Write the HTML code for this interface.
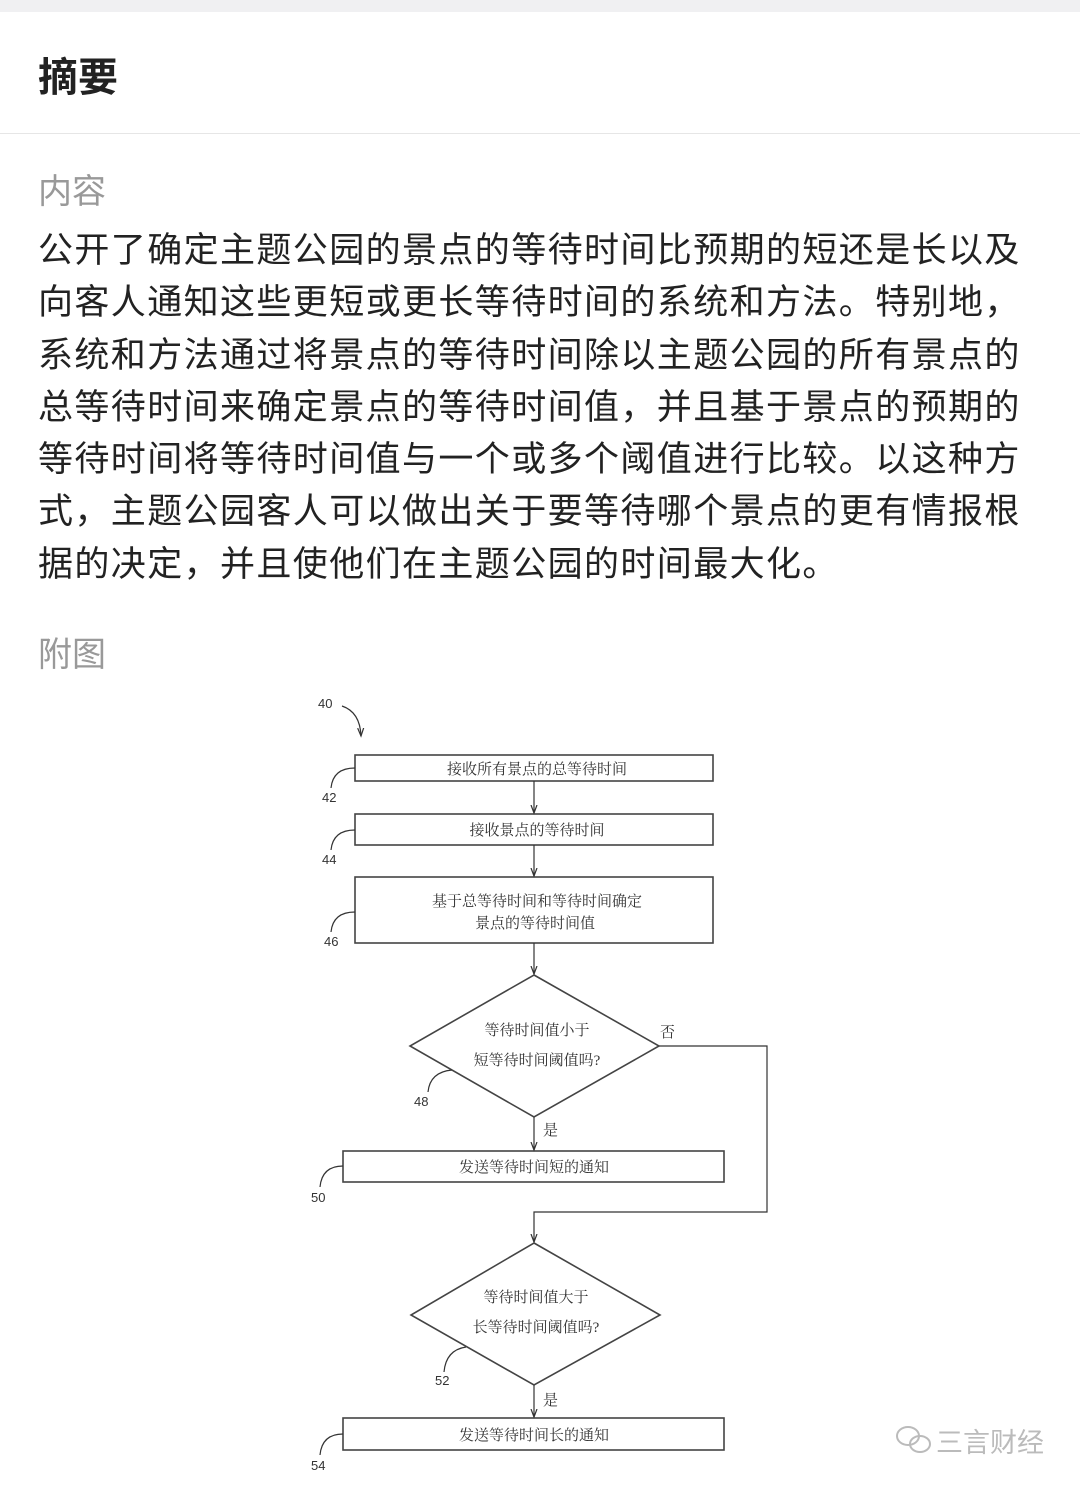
<!DOCTYPE html>
<html><head><meta charset="utf-8"><style>
body{margin:0;width:1080px;height:1487px;background:#fff;position:relative;overflow:hidden;font-family:"Liberation Sans","Noto Sans CJK SC",sans-serif}
.top{position:absolute;left:0;top:0;width:1080px;height:12px;background:#f0f0f2}
.h{position:absolute;left:38px;top:45px;font-size:40px;font-weight:bold;color:#222}
.div{position:absolute;left:0;top:133px;width:1080px;height:1px;background:#e6e6e6}
.g{position:absolute;left:38px;font-size:34px;color:#999}
.p{position:absolute;left:38px;top:225px;width:1040px;font-size:35px;line-height:52.3px;color:#222;letter-spacing:1.4px;white-space:nowrap}
svg{position:absolute;left:0;top:0}
svg text{font-family:"Liberation Serif","Noto Serif CJK SC",serif;font-size:15px;fill:#333}
svg text.n{font-family:"Liberation Sans",sans-serif;font-size:13px}
</style></head><body>
<div class="top"></div>
<div class="h">摘要</div>
<div class="div"></div>
<div class="g" style="top:164px">内容</div>
<div class="p">公开了确定主题公园的景点的等待时间比预期的短还是长以及<br>向客人通知这些更短或更长等待时间的系统和方法。特别地，<br>系统和方法通过将景点的等待时间除以主题公园的所有景点的<br>总等待时间来确定景点的等待时间值，并且基于景点的预期的<br>等待时间将等待时间值与一个或多个阈值进行比较。以这种方<br>式，主题公园客人可以做出关于要等待哪个景点的更有情报根<br>据的决定，并且使他们在主题公园的时间最大化。</div>
<div class="g" style="top:627px">附图</div>
<svg width="1080" height="1487" viewBox="0 0 1080 1487">
<defs><marker id="a" markerWidth="10" markerHeight="10" refX="8" refY="4" orient="auto" markerUnits="userSpaceOnUse"><path d="M0,1 L8,4 L0,7" fill="none" stroke="#333" stroke-width="1.2"/></marker></defs>
<g stroke="#444" stroke-width="1.6" fill="none">
<rect x="355" y="755" width="358" height="26"/>
<rect x="355" y="814" width="358" height="31"/>
<rect x="355" y="877" width="358" height="66"/>
<polygon points="534,975 659,1046 534,1117 410,1046"/>
<rect x="343" y="1151" width="381" height="31"/>
<polygon points="534,1243 660,1315 534,1385 411,1315"/>
<rect x="343" y="1418" width="381" height="32"/>
</g>
<g stroke="#333" stroke-width="1.2" fill="none">
<line x1="534" y1="781" x2="534" y2="813" marker-end="url(#a)"/>
<line x1="534" y1="845" x2="534" y2="876" marker-end="url(#a)"/>
<line x1="534" y1="943" x2="534" y2="974" marker-end="url(#a)"/>
<line x1="534" y1="1117" x2="534" y2="1150" marker-end="url(#a)"/>
<polyline points="659,1046 767,1046 767,1212 534,1212 534,1242" marker-end="url(#a)"/>
<line x1="534" y1="1385" x2="534" y2="1417" marker-end="url(#a)"/>
<path d="M342,706 Q360,712 361,736" marker-end="url(#a)"/>
<path d="M355,768 Q333,768 331,788"/>
<path d="M355,830 Q333,830 331,850"/>
<path d="M355,912 Q333,912 331,932"/>
<path d="M452,1070 Q430,1072 428,1092"/>
<path d="M343,1166 Q322,1166 320,1187"/>
<path d="M466,1347 Q446,1350 444,1372"/>
<path d="M343,1434 Q322,1434 320,1455"/>
</g>
<text class="n" x="318" y="708">40</text>
<text class="n" x="322" y="802">42</text>
<text class="n" x="322" y="864">44</text>
<text class="n" x="324" y="946">46</text>
<text class="n" x="414" y="1106">48</text>
<text class="n" x="311" y="1202">50</text>
<text class="n" x="435" y="1385">52</text>
<text class="n" x="311" y="1470">54</text>
<g text-anchor="middle">
<text x="537" y="774">接收所有景点的总等待时间</text>
<text x="537" y="835">接收景点的等待时间</text>
<text x="537" y="906">基于总等待时间和等待时间确定</text>
<text x="535" y="928">景点的等待时间值</text>
<text x="537" y="1035">等待时间值小于</text>
<text x="537" y="1065">短等待时间阈值吗?</text>
<text x="534" y="1172">发送等待时间短的通知</text>
<text x="536" y="1302">等待时间值大于</text>
<text x="536" y="1332">长等待时间阈值吗?</text>
<text x="534" y="1440">发送等待时间长的通知</text>
</g>
<text x="660" y="1037">否</text>
<text x="543" y="1135">是</text>
<text x="543" y="1405">是</text>
<g stroke="#bbb" stroke-width="2" fill="none"><ellipse cx="908" cy="1436" rx="11" ry="9"/><ellipse cx="920" cy="1444" rx="10" ry="8"/></g>
<text x="936" y="1452" style="font-family:'Liberation Sans','Noto Sans CJK SC',sans-serif;font-size:27px;fill:#bbb">三言财经</text>
</svg>
</body></html>
